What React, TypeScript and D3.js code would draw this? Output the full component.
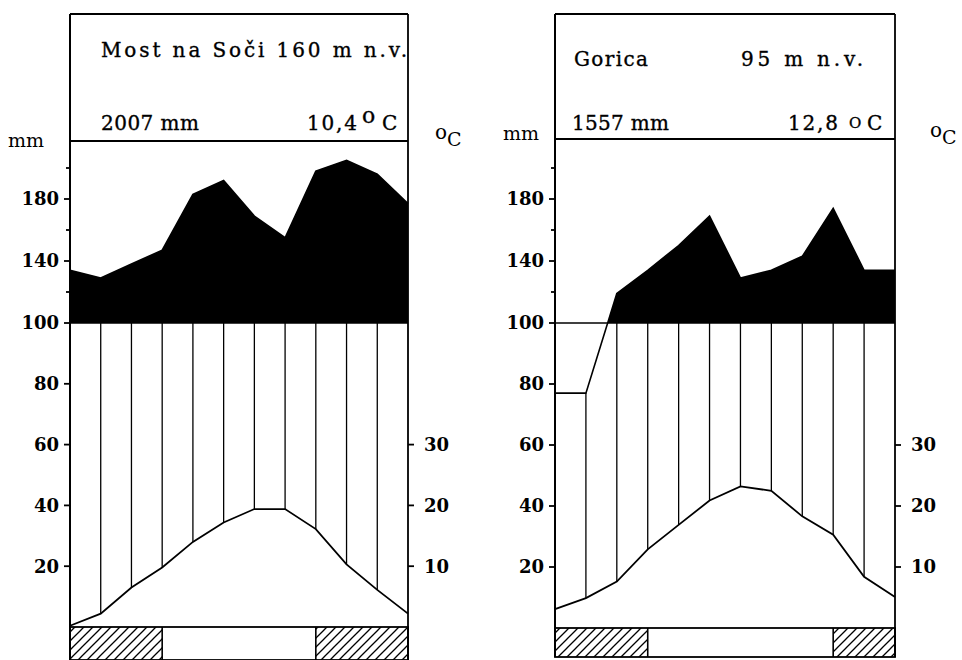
import React from 'react';
import * as d3 from 'd3';

const W = 962;
const H = 660;

// mesečne vrednosti, januar – december (odčitano s slike)
const mostPrecip = [134, 129, 138, 147, 183, 192, 169, 155, 198, 205, 196, 177];
const mostTemp = [0.2, 2.2, 6.5, 9.8, 14.0, 17.2, 19.4, 19.4, 16.1, 10.3, 6.1, 2.2];
const mostFrost = [[0, 3], [8, 11]];

const goricaPrecip = [77, 77, 119, 134, 150, 169, 129, 134, 143, 174, 134, 134];
const goricaTemp = [3.1, 4.9, 7.6, 12.9, 16.9, 20.9, 23.2, 22.5, 18.3, 15.3, 8.4, 5.1];
const goricaFrost = [[0, 3], [9, 11]];

const mmTicks = [20, 40, 60, 80, 100, 140, 180];
const mmMinorTicks = [120, 160, 200];
const tempTicks = [10, 20, 30];

const serifFont = '"DejaVu Serif", serif';

type PanelProps = {
  id: string;
  precip: number[];
  temp: number[];
  frost: number[][];
  x0: number;
  x1: number;
  yZero: number;
  y100: number;
  yTop: number;
  yHeader: number;
  barBottom: number;
  header: React.ReactNode;
  mmPos: [number, number];
  degPos: [number, number];
};

const Panel = (p: PanelProps) => {
  const x = d3.scaleLinear().domain([0, 11]).range([p.x0, p.x1]);
  // nad 100 mm je merilo pol manjše
  const y = d3.scaleLinear().domain([0, 100, 200]).range([p.yZero, p.y100, p.y100 - 155]);
  const yT = (t: number) => y(t * 2);

  const area = d3.area<number>()
    .x((_, i) => x(i))
    .y0(p.y100)
    .y1(d => y(d));
  const pLine = d3.line<number>().x((_, i) => x(i)).y(d => y(d));
  const tLine = d3.line<number>().x((_, i) => x(i)).y(d => yT(d));

  const sw = 1.8;

  return (
    <g>
      <defs>
        <clipPath id={`clip-${p.id}`}>
          <rect x={p.x0} y={0} width={p.x1 - p.x0} height={p.y100} />
        </clipPath>
      </defs>

      {/* okvir */}
      <line x1={p.x0} x2={p.x1} y1={p.yTop} y2={p.yTop} stroke="#000" strokeWidth={sw} />
      <line x1={p.x0} x2={p.x1} y1={p.yHeader} y2={p.yHeader} stroke="#000" strokeWidth={sw} />
      <line x1={p.x0} x2={p.x0} y1={p.yTop} y2={p.barBottom} stroke="#000" strokeWidth={2} />
      <line x1={p.x1} x2={p.x1} y1={p.yTop} y2={p.barBottom} stroke="#000" strokeWidth={sw} />

      {/* padavine nad 100 mm */}
      <path d={area(p.precip) || ''} fill="#000" clipPath={`url(#clip-${p.id})`} />
      <path d={pLine(p.precip) || ''} fill="none" stroke="#000" strokeWidth={1.6} />
      <line x1={p.x0} x2={p.x1} y1={p.y100} y2={p.y100} stroke="#000" strokeWidth={1.6} />

      {/* humidno obdobje */}
      {p.temp.map((t, i) => (i > 0 && i < 11 ? (
        <line key={i} x1={x(i)} x2={x(i)} y1={yT(t)} y2={y(Math.min(p.precip[i], 100))}
          stroke="#000" strokeWidth={1.3} />
      ) : null))}

      {/* temperatura */}
      <path d={tLine(p.temp) || ''} fill="none" stroke="#000" strokeWidth={1.8} />

      {/* mesečni pas z zmrzaljo */}
      <rect x={p.x0} y={p.yZero} width={p.x1 - p.x0} height={p.barBottom - p.yZero}
        fill="none" stroke="#000" strokeWidth={sw} />
      {p.frost.map(([a, b], i) => (
        <g key={i}>
          <rect x={x(a)} y={p.yZero} width={x(b) - x(a)} height={p.barBottom - p.yZero}
            fill="url(#hatch)" />
          <line x1={x(a)} x2={x(a)} y1={p.yZero} y2={p.barBottom} stroke="#000" strokeWidth={1.6} />
          <line x1={x(b)} x2={x(b)} y1={p.yZero} y2={p.barBottom} stroke="#000" strokeWidth={1.6} />
        </g>
      ))}

      {/* os mm */}
      {mmTicks.map(v => (
        <g key={v}>
          <line x1={p.x0 - 6} x2={p.x0} y1={y(v)} y2={y(v)} stroke="#000" strokeWidth={1.8} />
          <text x={p.x0 - 11} y={y(v)} dy="0.36em" textAnchor="end" fontFamily={serifFont}
            fontWeight="bold" fontSize={18}>{v}</text>
        </g>
      ))}
      {mmMinorTicks.map(v => (
        <line key={v} x1={p.x0 - 4} x2={p.x0} y1={y(v)} y2={y(v)} stroke="#000" strokeWidth={1.8} />
      ))}

      {/* os °C */}
      {tempTicks.map(v => (
        <g key={v}>
          <line x1={p.x1} x2={p.x1 + 6} y1={yT(v)} y2={yT(v)} stroke="#000" strokeWidth={1.8} />
          <text x={p.x1 + 16} y={yT(v)} dy="0.36em" textAnchor="start" fontFamily={serifFont}
            fontWeight="bold" fontSize={18}>{v}</text>
        </g>
      ))}

      <text x={p.mmPos[0]} y={p.mmPos[1]} fontFamily={serifFont} fontSize={19}>mm</text>
      <text x={p.degPos[0]} y={p.degPos[1] - 7} fontFamily={serifFont} fontSize={20}>o</text>
      <text x={p.degPos[0] + 12} y={p.degPos[1]} fontFamily={serifFont} fontSize={19}>C</text>

      {p.header}
    </g>
  );
};

const hText = (x: number, y: number, s: string, len?: number, size = 20) => (
  <text x={x} y={y} fontFamily={serifFont} fontSize={size} stroke="#000" strokeWidth={0.35}
    textLength={len} lengthAdjust={len ? 'spacing' : undefined}>{s}</text>
);

const App = () => (
  <svg width={W} height={H} style={{ position: 'absolute', left: 0, top: 0, background: '#fff' }}>
    <defs>
      <pattern id="hatch" patternUnits="userSpaceOnUse" width={9} height={9}>
        <path d="M0,9 L9,0 M-3,3 L3,-3 M6,12 L12,6" stroke="#000" strokeWidth={1.3} />
      </pattern>
    </defs>
    <rect width={W} height={H} fill="#fff" />
    <Panel id="most" precip={mostPrecip} temp={mostTemp} frost={mostFrost}
      x0={70} x1={408} yZero={627} y100={323} yTop={14} yHeader={141} barBottom={660}
      mmPos={[8, 147]} degPos={[435, 146]}
      header={<g>
        {hText(101, 57, 'Most na Soči 160 m n.v.', 306)}
        {hText(101, 130, '2007 mm', 98)}
        {hText(307, 130, '10,4', 50)}
        {hText(362, 123, 'o', undefined, 22)}
        {hText(382, 130, 'C')}
      </g>} />
    <Panel id="gorica" precip={goricaPrecip} temp={goricaTemp} frost={goricaFrost}
      x0={555} x1={895} yZero={628} y100={323} yTop={14} yHeader={139} barBottom={657}
      mmPos={[503, 140]} degPos={[930, 144]}
      header={<g>
        {hText(574, 66, 'Gorica', 74)}
        {hText(741, 66, '95 m n.v.', 122)}
        {hText(572, 130, '1557 mm', 97)}
        {hText(788, 130, '12,8', 50)}
        {hText(849, 128, 'O', undefined, 15)}
        {hText(867, 130, 'C')}
      </g>} />
  </svg>
);

export default App;
